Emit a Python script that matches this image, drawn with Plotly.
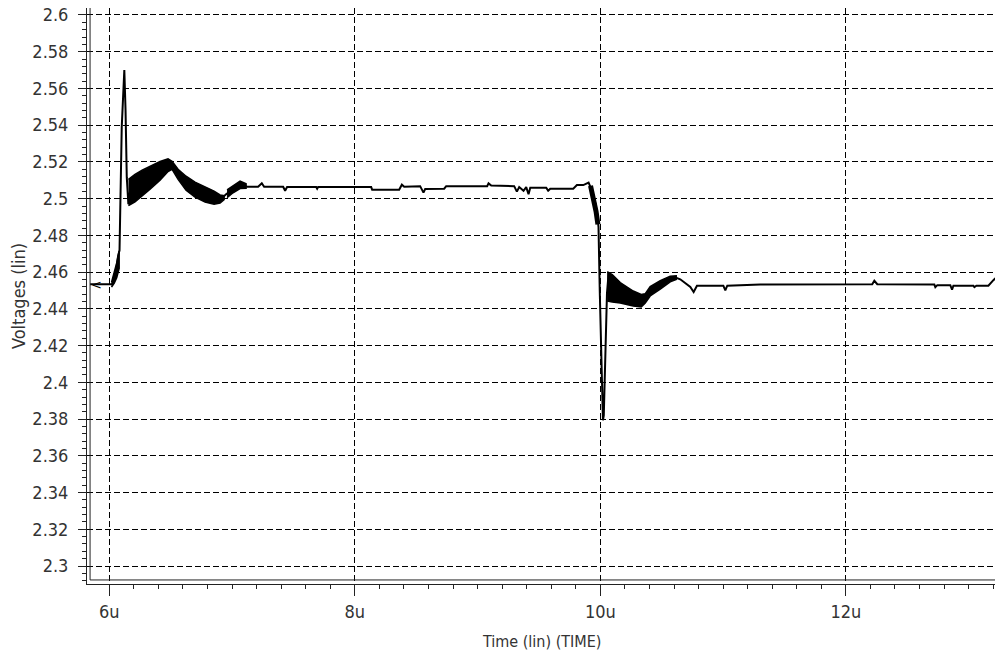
import plotly.graph_objects as go

# ---------------- data (time in microseconds, voltage in volts) ----------------
time_us = [5.843, 6.022, 6.030, 6.038, 6.055, 6.063, 6.071, 6.079, 6.083, 6.101, 6.116, 6.122,
           6.132, 6.142, 6.155, 6.169, 6.250, 6.332, 6.413, 6.478, 6.535, 6.617, 6.698, 6.780,
           6.861, 6.918, 6.951, 7.008, 7.065, 7.124, 7.212, 7.242, 7.261, 7.416, 7.432, 7.448,
           7.685, 7.693, 7.701, 8.133, 8.141, 8.361, 8.383, 8.402, 8.532, 8.559, 8.573, 8.728,
           8.744, 9.078, 9.089, 9.111, 9.298, 9.320, 9.339, 9.374, 9.396, 9.415, 9.429, 9.559,
           9.575, 9.592, 9.779, 9.809, 9.861, 9.904, 9.931, 9.943, 9.959, 9.976, 9.985, 9.995,
           10.007, 10.021, 10.028, 10.040, 10.054, 10.068, 10.097, 10.162, 10.268, 10.333, 10.366,
           10.406, 10.488, 10.569, 10.618, 10.651, 10.733, 10.760, 10.787, 11.002, 11.018, 11.034,
           11.303, 12.036, 12.215, 12.232, 12.256, 12.721, 12.729, 12.745, 12.851, 12.865, 12.876,
           13.039, 13.047, 13.063, 13.161, 13.202, 13.218]
voltage = [2.4534, 2.4534, 2.4550, 2.4577, 2.4610, 2.4654, 2.4687, 2.4708, 2.4719, 2.5390, 2.5646, 2.5700,
           2.5482, 2.5117, 2.4970, 2.5043, 2.5079, 2.5114, 2.5150, 2.5183, 2.5150, 2.5084, 2.5043, 2.5016,
           2.4997, 2.5003, 2.5024, 2.5052, 2.5074, 2.5065, 2.5065, 2.5084, 2.5065, 2.5065, 2.5043, 2.5063,
           2.5063, 2.5054, 2.5063, 2.5063, 2.5049, 2.5049, 2.5076, 2.5065, 2.5068, 2.5033, 2.5052, 2.5054,
           2.5068, 2.5068, 2.5083, 2.5071, 2.5068, 2.5038, 2.5063, 2.5043, 2.5063, 2.5024, 2.5060, 2.5060,
           2.5043, 2.5054, 2.5054, 2.5074, 2.5074, 2.5087, 2.5046, 2.5013, 2.4975, 2.4910, 2.4845, 2.4501,
           2.4174, 2.3793, 2.3820, 2.4119, 2.4485, 2.4599, 2.4512, 2.4488, 2.4458, 2.4444, 2.4458,
           2.4496, 2.4531, 2.4563, 2.4569, 2.4561, 2.4519, 2.4492, 2.4526, 2.4526, 2.4501, 2.4526,
           2.4532, 2.4534, 2.4534, 2.4553, 2.4534, 2.4532, 2.4518, 2.4529, 2.4529, 2.4504, 2.4526,
           2.4526, 2.4518, 2.4526, 2.4526, 2.4556, 2.4567]

# ripple envelopes (high-frequency ringing bands)
ripple0_t = [6.018, 6.040, 6.060, 6.080]
ripple0_hi = [2.4545, 2.4595, 2.4650, 2.4715]
ripple0_lo = [2.4518, 2.4540, 2.4570, 2.4620]

ripple1_t = [6.156, 6.209, 6.267, 6.332, 6.413, 6.478, 6.511, 6.560, 6.625, 6.698, 6.780, 6.853, 6.902, 6.935]
ripple1_hi = [2.5105, 2.5132, 2.5155, 2.5176, 2.5202, 2.5217, 2.5203, 2.5160, 2.5122, 2.5090, 2.5063, 2.5041, 2.5020, 2.5016]
ripple1_lo = [2.4962, 2.4982, 2.5014, 2.5052, 2.5100, 2.5148, 2.5160, 2.5105, 2.5046, 2.5008, 2.4981, 2.4970, 2.4976, 2.4995]

ripple2_t = [6.959, 7.008, 7.065, 7.114]
ripple2_hi = [2.5048, 2.5072, 2.5096, 2.5081]
ripple2_lo = [2.5006, 2.5032, 2.5055, 2.5056]

ripple3_t = [10.056, 10.097, 10.162, 10.268, 10.333, 10.366, 10.406, 10.488, 10.569, 10.618]
ripple3_hi = [2.4602, 2.4587, 2.4543, 2.4497, 2.4478, 2.4483, 2.4521, 2.4554, 2.4578, 2.4580]
ripple3_lo = [2.4443, 2.4437, 2.4432, 2.4415, 2.4410, 2.4432, 2.4470, 2.4508, 2.4547, 2.4560]

drop_t = [9.920, 9.935, 9.950, 9.965, 9.980]
drop_v = [2.5070, 2.5030, 2.4990, 2.4930, 2.4860]

x_tick_vals = [6, 8, 10, 12]
x_tick_text = ["6u", "8u", "10u", "12u"]
y_tick_vals = [2.3, 2.32, 2.34, 2.36, 2.38, 2.4, 2.42, 2.44, 2.46, 2.48, 2.5, 2.52, 2.54, 2.56, 2.58, 2.6]
y_tick_text = ["2.3", "2.32", "2.34", "2.36", "2.38", "2.4", "2.42", "2.44", "2.46", "2.48",
               "2.5", "2.52", "2.54", "2.56", "2.58", "2.6"]

x_range = [5.818, 13.215]
y_range = [2.2902, 2.6038]
border_x = 5.843
border_y = 2.2924

FONT = "Liberation Sans Narrow, Arial Narrow, DejaVu Sans Condensed, sans-serif"
TXT = "#333333"

fig = go.Figure()

for rt, hi, lo in [(ripple0_t, ripple0_hi, ripple0_lo),
                   (ripple1_t, ripple1_hi, ripple1_lo),
                   (ripple2_t, ripple2_hi, ripple2_lo),
                   (ripple3_t, ripple3_hi, ripple3_lo)]:
    fig.add_trace(go.Scatter(x=rt + rt[::-1], y=hi + lo[::-1], mode="lines",
                             fill="toself", fillcolor="black",
                             line=dict(color="black", width=1.5),
                             hoverinfo="skip", showlegend=False))

fig.add_trace(go.Scatter(x=drop_t, y=drop_v, mode="lines",
                         line=dict(color="black", width=5), showlegend=False))

fig.add_trace(go.Scatter(x=time_us, y=voltage, mode="lines",
                         line=dict(color="black", width=2), showlegend=False))

axis_common = dict(
    showgrid=True, gridcolor="black", gridwidth=1, griddash="6px,3px",
    zeroline=False, showline=True, linecolor="#222222", linewidth=1,
    ticks="outside", tickcolor="#222222", tickwidth=1,
    tickfont=dict(family=FONT, size=18, color=TXT),
)

fig.update_xaxes(**axis_common, range=x_range, tickmode="array",
                 tickvals=x_tick_vals, ticktext=x_tick_text, ticklen=11,
                 minor=dict(dtick=0.2, tick0=6, ticklen=4, ticks="outside",
                            tickcolor="#222222", showgrid=False))
fig.update_yaxes(**axis_common, range=y_range, tickmode="array",
                 tickvals=y_tick_vals, ticktext=y_tick_text, ticklen=8,
                 ticklabelstandoff=6,
                 minor=dict(dtick=0.004, tick0=2.3, ticklen=4, ticks="outside",
                            tickcolor="#222222", showgrid=False))

fig.update_layout(
    width=999, height=652,
    margin=dict(l=87, r=4, t=8, b=68),
    plot_bgcolor="white", paper_bgcolor="white",
    shapes=[
        dict(type="line", xref="x", yref="y", x0=border_x, x1=border_x,
             y0=border_y, y1=y_range[1], line=dict(color="#222222", width=1)),
        dict(type="line", xref="x", yref="y", x0=border_x, x1=x_range[1],
             y0=border_y, y1=border_y, line=dict(color="#222222", width=1)),
    ],
    annotations=[
        dict(text="Voltages (lin)", xref="paper", yref="paper", x=0, y=0.5,
             xanchor="center", yanchor="middle",
             xshift=-69, textangle=-90, showarrow=False,
             font=dict(family=FONT, size=18, color=TXT)),
        dict(text="Time (lin) (TIME)", xref="paper", yref="paper", x=0.5, y=0,
             xanchor="center", yanchor="middle",
             yshift=-57, showarrow=False,
             font=dict(family=FONT, size=16, color=TXT)),
        dict(text="<", x=time_us[0], y=voltage[0], xref="x", yref="y",
             xanchor="left", showarrow=False, xshift=-1,
             font=dict(family="DejaVu Sans", size=13, color="black")),
    ],
)

fig.write_html("out.html")
